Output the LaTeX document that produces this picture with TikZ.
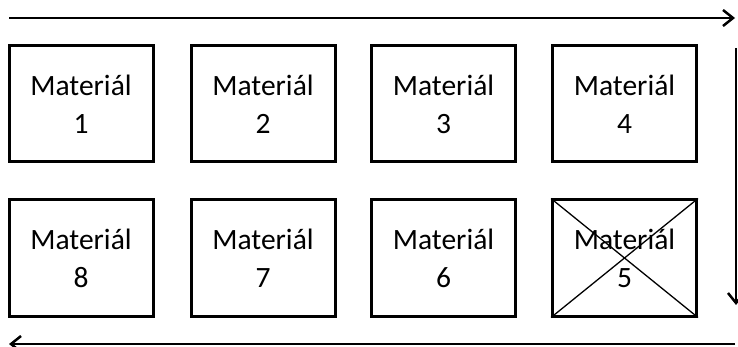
\documentclass[tikz,border=0pt]{standalone}
\usepackage{fontspec}
\setmainfont{Carlito}
\usetikzlibrary{arrows.meta}
\begin{document}
\begin{tikzpicture}[x=1pt,y=-1pt,
  matbox/.style={draw=black, line width=3pt, minimum width=144pt, minimum height=116pt,
    align=center, inner sep=0pt, font=\fontsize{29.5}{38}\selectfont},
  flow/.style={line width=2.5pt, -{Straight Barb[length=10pt,width=16pt,line width=2.5pt]}},
  crossline/.style={line width=1.3pt}]
\useasboundingbox (0,0) rectangle (738,347);
\node[matbox] (m1) at (81,104) {Materiál\\1};
\node[matbox] (m2) at (263,104) {Materiál\\2};
\node[matbox] (m3) at (443.5,104) {Materiál\\3};
\node[matbox] (m4) at (624.5,104) {Materiál\\4};
\node[matbox] (m8) at (81,258) {Materiál\\8};
\node[matbox] (m7) at (263,258) {Materiál\\7};
\node[matbox] (m6) at (443.5,258) {Materiál\\6};
\node[matbox] (m5) at (624.5,258) {Materiál\\5};
\draw[crossline] (m5.north west) -- (m5.south east);
\draw[crossline] (m5.south west) -- (m5.north east);
\coordinate (ts) at (9,18);
\coordinate (te) at (735,18);
\coordinate (vs) at (736,48);
\coordinate (ve) at (736,305);
\coordinate (bs) at (735,344);
\coordinate (be) at (9,344);
\draw[flow] (ts) -- (te);
\draw[flow] (vs) -- (ve);
\draw[flow] (bs) -- (be);
\end{tikzpicture}
\end{document}
